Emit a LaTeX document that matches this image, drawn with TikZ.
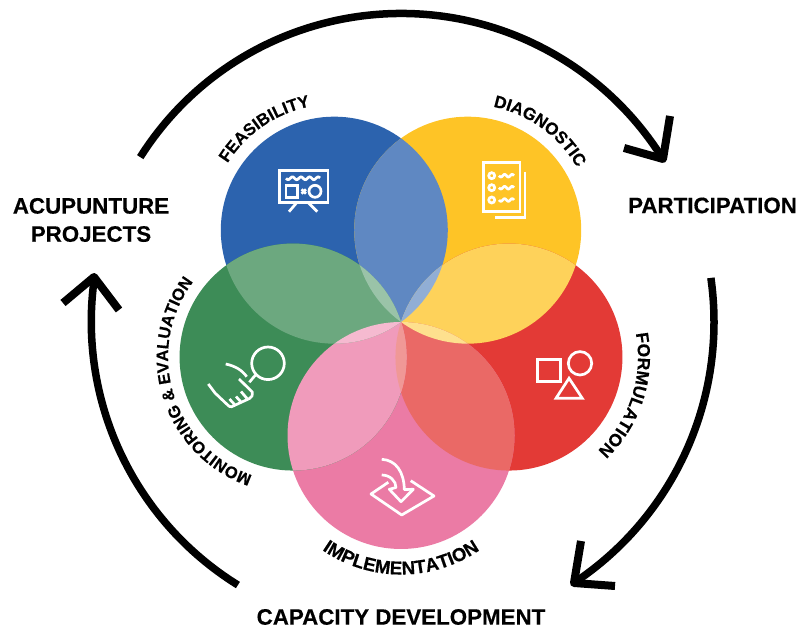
\documentclass[tikz,border=0pt]{standalone}
\usepackage{fontspec}
\setmainfont[BoldFeatures={FakeBold=0.35}]{Liberation Sans}
\usetikzlibrary{
    calc,
    decorations.text
}
\definecolor{feasC}{HTML}{2C63AE}
\definecolor{diagC}{HTML}{FEC426}
\definecolor{formC}{HTML}{E33A36}
\definecolor{implC}{HTML}{EB7BA5}
\definecolor{moniC}{HTML}{3D8C57}
\tikzset{
    title/.style={font=\bfseries\fontsize{6.35}{8}\selectfont, align=center, inner sep=0pt},
    cycleline/.style={line width=0.075cm},
    cycletip/.style={line width=0.08cm, line join=round},
    icon/.style={draw=white, line width=0.027cm},
    petaltext/.style 2 args={decorate, decoration={text along path, text align=center, text={|\bfseries\fontsize{#1}{6}\selectfont|#2}}}
}

\begin{document}
\begin{tikzpicture}[x=0.01cm, y=0.01cm]
    \useasboundingbox (0, 0) rectangle (810, 631);
    \coordinate (hub) at (401, 309);
    \foreach \nm/\ang in {feas/126, diag/54, form/-18, impl/-90, moni/198}
        \coordinate (\nm) at ($(hub)+(\ang:113.5)$);
    \foreach \nm/\col in {feas/feasC, diag/diagC, form/formC, impl/implC, moni/moniC}
        \fill[\col] (\nm) circle[radius=113.5];
    \foreach \top/\col/\under in {feas/feasC/diag, diag/diagC/form, form/formC/impl, impl/implC/moni, moni/moniC/feas} {
        \begin{scope}
            \clip (\under) circle[radius=113.5];
            \fill[\col!76!white] (\top) circle[radius=113.5];
        \end{scope}
    }
    \foreach \top/\col/\mid/\low in {moni/moniC/feas/diag, feas/feasC/diag/form, diag/diagC/form/impl, form/formC/impl/moni, impl/implC/moni/feas} {
        \begin{scope}
            \clip (\mid) circle[radius=113.5];
            \clip (\low) circle[radius=113.5];
            \fill[\col!52!white] (\top) circle[radius=113.5];
        \end{scope}
    }

    \path[petaltext={4.8}{FEASIBILITY}] (feas) ++(174.5:126) arc[start angle=174.5, end angle=74.5, radius=126];
    \path[petaltext={4.85}{DIAGNOSTIC}] (diag) ++(104:126) arc[start angle=104, end angle=4, radius=126];
    \path[petaltext={4.95}{FORMULATION}] (form) ++(32:129) arc[start angle=32, end angle=-68, radius=129];
    \path[petaltext={5.3}{IMPLEMENTATION}] (impl) ++(-145:139) arc[start angle=-145, end angle=-35, radius=139];
    \path[petaltext={4.7}{MONITORING {\&} EVALUATION}] (moni) ++(269:125) arc[start angle=269, end angle=125, radius=125];

    \node[title] (acu) at (91, 411) {ACUPUNTURE\\PROJECTS};
    \node[title] (part) at (712.5, 425.5) {PARTICIPATION};
    \node[title] (capa) at (401, 14) {CAPACITY DEVELOPMENT};

    \coordinate (topstart) at ($(hub)+(147.7:308.5)$);
    \coordinate (righttip) at ($(hub)+(8.1:313)$);
    \coordinate (leftstart) at ($(hub)+(238.2:309.5)$);
    \draw[cycleline] (topstart) arc[start angle=147.7, end angle=31.9, radius=308.5];
    \draw[cycleline] (righttip) arc[start angle=8.1, end angle=-56.5, radius=313];
    \draw[cycleline] (leftstart) arc[start angle=238.2, end angle=171.7, radius=310];
    \draw[cycletip] (670, 515) -- (663, 472) -- (624, 483);
    \draw[cycletip] (581, 90) -- (574, 48) -- (615, 45);
    \draw[cycletip] (63, 328) -- (94, 354) -- (119, 321);

    \begin{scope}[shift={(0, 631)}, yscale=-1]
        % board
        \draw[icon] (279.3, 170.5) rectangle (328, 202.7);
        \draw[icon] (296.7, 202.7) -- (289, 211.7);
        \draw[icon] (308.3, 202.7) -- (317.3, 211.7);
        \draw[icon] plot[domain=286:320, samples=40, smooth] (\x, {178.3+1.4*sin(42*(\x-286))});
        \draw[icon] (286, 185.7) rectangle (297.3, 197.3);
        \draw[icon] (315, 191.3) circle[radius=6];
        \draw[icon] (301.5, 189.3) -- (306, 193.7);
        \draw[icon] (306, 189.3) -- (301.5, 193.7);
        % checklist
        \draw[icon] (483.3, 162.7) rectangle (520, 211.7);
        \draw[icon] (525, 171.7) -- (525, 217.3) -- (495, 217.3);
        \foreach \yy in {175.7, 187.7, 200} {
            \draw[icon] (491.7, \yy) circle[radius=3];
            \draw[icon] plot[domain=499:514, samples=24, smooth] (\x, {\yy+1.3*sin(48*(\x-499))});
        }
        % shapes
        \draw[icon] (537.7, 359.3) rectangle (560.7, 381.7);
        \draw[icon] (580, 363.3) circle[radius=11.7];
        \draw[icon] (569, 378.3) -- (582.3, 398.3) -- (556, 398.3) -- cycle;
        % hand and lens
        \draw[icon] (268, 363.3) circle[radius=16.3];
        \draw[icon] (255.5, 375) -- (249.3, 382.3);
        \draw[icon] (225.7, 364) .. controls (235, 366) and (242, 370) .. (246.7, 376.7);
        \draw[icon, line join=round] (239, 379) -- (252.3, 392) .. controls (253, 395) and (252, 397) .. (249.5, 398.5) -- (231.7, 406.7) .. controls (230, 407) and (229, 406.5) .. (227.7, 405) -- (215, 393) -- (208.3, 384);
        \draw[icon] (229.5, 399) -- (234.5, 404.5);
        \draw[icon] (236, 396.5) -- (241, 402);
        \draw[icon] (241, 391.5) -- (247, 398.5);
        % sheet and arrow
        \draw[icon, line join=round] (388.3, 482.3) -- (371, 494) -- (401.7, 515) -- (434, 496) -- (410.7, 480.7);
        \draw[icon, line join=round] (381.7, 459.3) .. controls (396, 460) and (404, 472) .. (404.3, 489.5) -- (413.3, 489.3) -- (401, 501.7) -- (389.3, 489.3) -- (396, 487.5) .. controls (396, 481) and (390, 475) .. (381.7, 475);
    \end{scope}
\end{tikzpicture}
\end{document}
